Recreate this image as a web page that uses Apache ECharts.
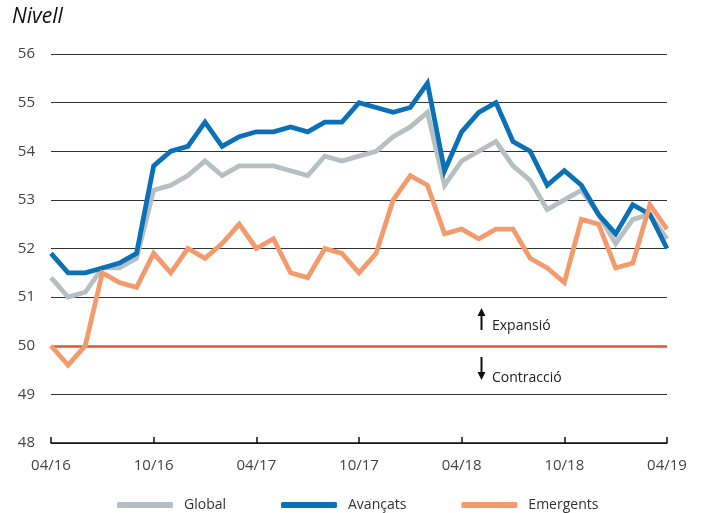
<!DOCTYPE html>
<html>
<head>
<meta charset="utf-8">
<script src="https://cdn.jsdelivr.net/npm/echarts@6/dist/echarts.min.js"></script>
<style>
  html, body { margin: 0; padding: 0; background: #fff; }
  #chart { width: 705px; height: 513px; }
</style>
</head>
<body>
<div id="chart"></div>
<script>
const months = [
  '04/16', '05/16', '06/16', '07/16', '08/16', '09/16', '10/16', '11/16', '12/16',
  '01/17', '02/17', '03/17', '04/17', '05/17', '06/17', '07/17', '08/17', '09/17',
  '10/17', '11/17', '12/17', '01/18', '02/18', '03/18', '04/18', '05/18', '06/18',
  '07/18', '08/18', '09/18', '10/18', '11/18', '12/18', '01/19', '02/19', '03/19', '04/19'
]
const globalVals = [
  51.4, 51.0, 51.1, 51.6, 51.6, 51.8, 53.2, 53.3, 53.5, 53.8, 53.5, 53.7, 53.7,
  53.7, 53.6, 53.5, 53.9, 53.8, 53.9, 54.0, 54.3, 54.5, 54.8, 53.3, 53.8, 54.0,
  54.2, 53.7, 53.4, 52.8, 53.0, 53.2, 52.7, 52.1, 52.6, 52.7, 52.2
]
const avancatsVals = [
  51.9, 51.5, 51.5, 51.6, 51.7, 51.9, 53.7, 54.0, 54.1, 54.6, 54.1, 54.3, 54.4,
  54.4, 54.5, 54.4, 54.6, 54.6, 55.0, 54.9, 54.8, 54.9, 55.4, 53.6, 54.4, 54.8,
  55.0, 54.2, 54.0, 53.3, 53.6, 53.3, 52.7, 52.3, 52.9, 52.7, 52.0
]
const emergentsVals = [
  50.0, 49.6, 50.0, 51.5, 51.3, 51.2, 51.9, 51.5, 52.0, 51.8, 52.1, 52.5, 52.0,
  52.2, 51.5, 51.4, 52.0, 51.9, 51.5, 51.9, 53.0, 53.5, 53.3, 52.3, 52.4, 52.2,
  52.4, 52.4, 51.8, 51.6, 51.3, 52.6, 52.5, 51.6, 51.7, 52.9, 52.4
]
const threshold = 50
const yTicks = [48, 49, 50, 51, 52, 53, 54, 55, 56]

const font = "'Open Sans', 'Noto Sans', sans-serif"
const txt = '#444'

const chart = echarts.init(document.getElementById('chart'))

const lineSeries = (name, data, color) => ({
  name: name,
  type: 'line',
  data: data,
  symbol: 'none',
  smooth: false,
  lineStyle: { color: color, width: 4.8, join: 'miter' },
  itemStyle: { color: color },
  emphasis: { disabled: true }
})

// small arrow for the expansion / contraction notes
const arrow = (x, yTail, yHead) => {
  const dir = yHead < yTail ? 1 : -1
  return {
    type: 'group',
    children: [
      { type: 'line', shape: { x1: x, y1: yTail, x2: x, y2: yHead + dir * 6 },
        style: { stroke: '#111', lineWidth: 2 } },
      { type: 'polygon', shape: { points: [[x - 4, yHead + dir * 8], [x + 4, yHead + dir * 8], [x, yHead]] },
        style: { fill: '#111' } }
    ]
  }
}

const option = {
  animation: false,
  grid: { left: 51, right: 38, top: 54, bottom: 70 },
  xAxis: {
    type: 'category',
    data: months,
    boundaryGap: false,
    axisLine: { lineStyle: { color: '#111', width: 1.5 } },
    axisTick: { inside: true, length: 6, interval: 5, lineStyle: { color: '#111', width: 1.5 } },
    axisLabel: { interval: 5, margin: 15, color: txt, fontFamily: font, fontSize: 15 },
    splitLine: { show: false }
  },
  yAxis: {
    type: 'value',
    min: yTicks[0],
    max: yTicks[yTicks.length - 1],
    interval: 1,
    axisLine: { show: false },
    axisTick: { show: false },
    axisLabel: { margin: 16, color: txt, fontFamily: font, fontSize: 15 },
    splitLine: { lineStyle: { color: '#333', width: 1 } }
  },
  legend: {
    bottom: 1,
    left: 117,
    padding: 0,
    icon: 'roundRect',
    itemWidth: 56,
    itemHeight: 6,
    itemGap: 55,
    textStyle: { color: '#333', fontFamily: font, fontSize: 14, padding: [0, 0, 0, 6] },
    data: ['Global', 'Avançats', 'Emergents']
  },
  graphic: [
    {
      type: 'text', left: 12, top: 7,
      style: { text: 'Nivell', font: 'italic 21px ' + font, fill: '#111' }
    },
    arrow(481.5, 330, 308),
    {
      type: 'text', left: 492, top: 319,
      style: { text: 'Expansió', font: '14px ' + font, fill: '#222' }
    },
    arrow(481.5, 357, 380),
    {
      type: 'text', left: 492, top: 371,
      style: { text: 'Contracció', font: '14px ' + font, fill: '#222' }
    }
  ],
  series: [
    Object.assign(lineSeries('Global', globalVals, '#b6bfc2'), {
      markLine: {
        silent: true,
        symbol: 'none',
        label: { show: false },
        lineStyle: { color: '#e2572b', width: 2.5, type: 'solid' },
        data: [{ yAxis: threshold }],
        z: 1
      }
    }),
    lineSeries('Avançats', avancatsVals, '#0a70b7'),
    lineSeries('Emergents', emergentsVals, '#f39b6c')
  ]
}

chart.setOption(option)
</script>
</body>
</html>
